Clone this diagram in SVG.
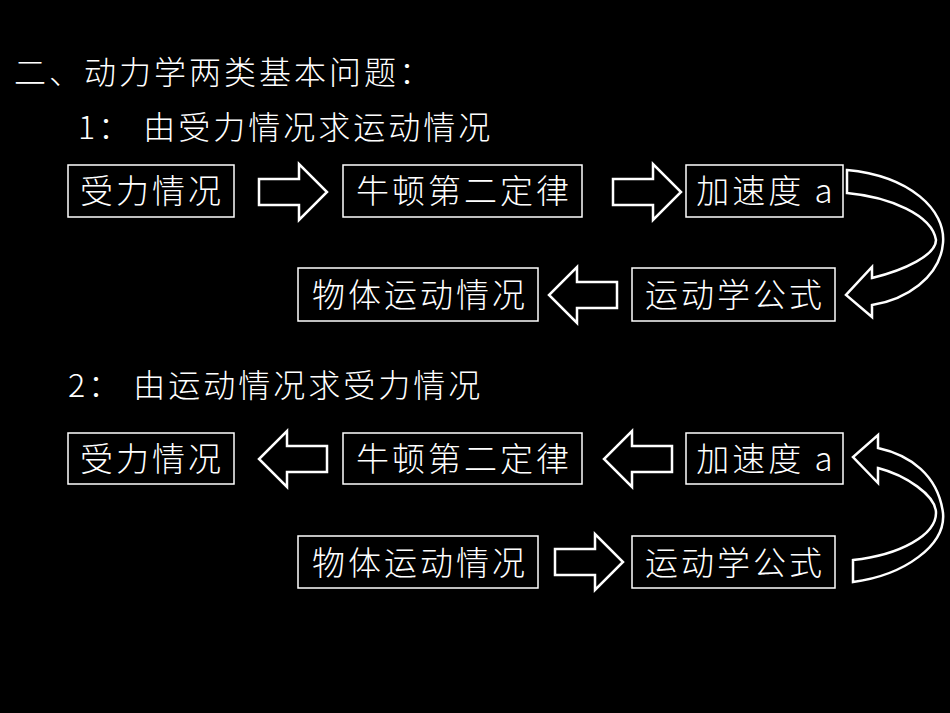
<svg xmlns="http://www.w3.org/2000/svg" width="950" height="713" viewBox="0 0 950 713">
<style>
text{font-family:"Noto Sans CJK SC","Liberation Sans",sans-serif;fill:#fff;font-weight:300}
.b{fill:none;stroke:#fff;stroke-width:1.5}
.t{font-size:33px;letter-spacing:3px;text-anchor:middle}
.a{fill:none;stroke:#fff;stroke-width:2.5;stroke-linejoin:miter}
</style>
<defs>
<path id="ar" class="a" d="M0,-13 L40,-13 L40,-28 L68,0 L40,28 L40,13 L0,13 Z"/>
</defs>
<rect width="950" height="713" fill="#000"/>
<text x="14" y="84" font-size="32" letter-spacing="3">二、动力学两类基本问题：</text>
<text x="78" y="139" font-size="32" letter-spacing="3">1： 由受力情况求运动情况</text>
<text x="68" y="397" font-size="32" letter-spacing="3">2： 由运动情况求受力情况</text>
<g id="n1"><rect class="b" x="68" y="165" width="166" height="52"/><text class="t" x="152" y="203">受力情况</text></g>
<g id="n2"><rect class="b" x="343" y="165" width="239" height="52"/><text class="t" x="464" y="203">牛顿第二定律</text></g>
<g id="n3"><rect class="b" x="686" y="165" width="157" height="52"/><text class="t" x="766" y="203">加速度 a</text></g>
<g id="n4"><rect class="b" x="298" y="268" width="240" height="53"/><text class="t" x="420" y="307">物体运动情况</text></g>
<g id="n5"><rect class="b" x="632" y="268" width="203" height="53"/><text class="t" x="735" y="307">运动学公式</text></g>
<g id="n6"><rect class="b" x="68" y="433" width="166" height="51"/><text class="t" x="152" y="471">受力情况</text></g>
<g id="n7"><rect class="b" x="343" y="433" width="239" height="51"/><text class="t" x="464" y="471">牛顿第二定律</text></g>
<g id="n8"><rect class="b" x="686" y="433" width="157" height="51"/><text class="t" x="766" y="471">加速度 a</text></g>
<g id="n9"><rect class="b" x="298" y="536" width="240" height="52"/><text class="t" x="420" y="575">物体运动情况</text></g>
<g id="n10"><rect class="b" x="632" y="536" width="203" height="52"/><text class="t" x="735" y="575">运动学公式</text></g>
<g id="connectors">
<use href="#ar" transform="translate(259,192)"/>
<use href="#ar" transform="translate(613,192)"/>
<use href="#ar" transform="translate(617,295) scale(-1,1)"/>
<use href="#ar" transform="translate(327,459) scale(-1,1)"/>
<use href="#ar" transform="translate(672,459) scale(-1,1)"/>
<use href="#ar" transform="translate(555,562)"/>
<path class="a" d="M847,170 C910,176 946,210 943,243 C940,278 905,300 872,305 L872,317 L846,295 L872,267 L872,278 C905,270 936,255 936,240 C932,215 890,197 847,193 Z"/>
<path class="a" d="M853,582 C905,575 946,545 943,513 C938,475 910,455 878,448 L878,435 L853,457 L878,483 L878,468 C905,475 936,495 936,513 C936,535 900,555 853,560 Z"/>
</g>
</svg>
